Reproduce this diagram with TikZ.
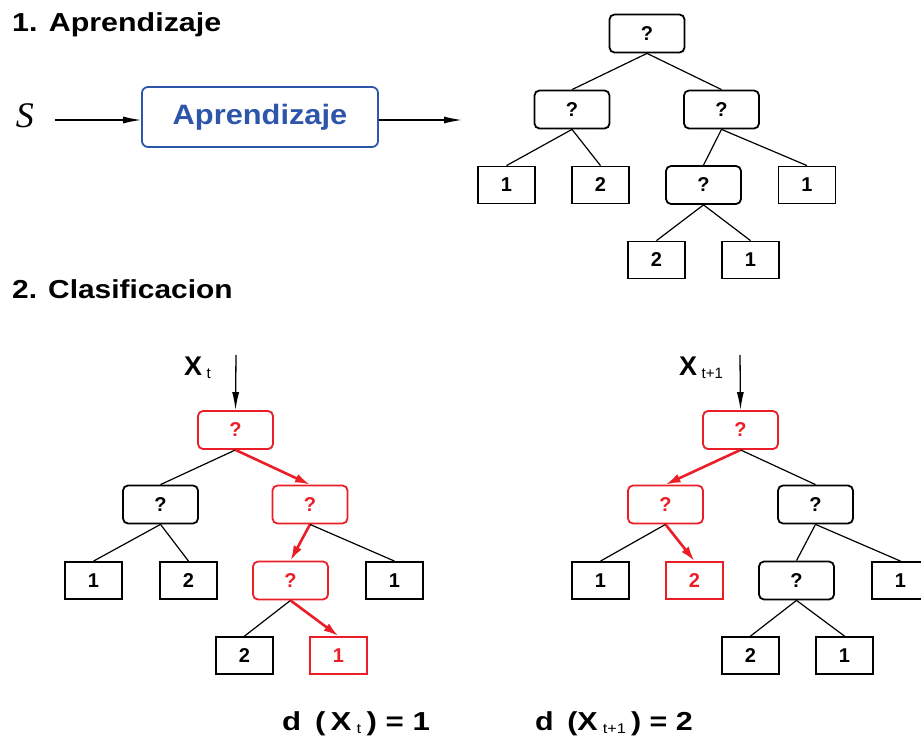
\documentclass[tikz,border=0pt]{standalone}
\usepackage{fontspec}
\usepackage{graphicx}
\setmainfont{Liberation Sans}
\newfontfamily\serifit{Liberation Serif}
\usetikzlibrary{arrows.meta}
\definecolor{rd}{RGB}{235,30,40}
\definecolor{bl}{RGB}{45,85,170}
\tikzset{
  qbox/.style={draw, rounded corners=5pt, minimum width=75pt, minimum height=38pt, line width=1.8pt, inner sep=0pt,
    font=\fontsize{20}{20}\selectfont\bfseries},
  leaf/.style={draw, minimum width=57pt, minimum height=37pt, line width=1.8pt, inner sep=0pt,
    font=\fontsize{20}{20}\selectfont\bfseries},
  hl/.style={draw=rd, text=rd},
  edge/.style={line width=1.2pt},
  redge/.style={draw=rd, line width=2.6pt, -{Latex[length=15pt,width=9pt]}},
  inarrow/.style={line width=1.3pt, -{Latex[length=18pt,width=7pt]}},
  title/.style={anchor=base west, font=\fontsize{26}{26}\selectfont\bfseries, inner sep=0pt},
  result/.style={anchor=base west, font=\fontsize{26}{26}\selectfont\bfseries, inner sep=0pt},
}
\begin{document}
\begin{tikzpicture}[x=1pt, y=-1pt]
\useasboundingbox (0,0) rectangle (921,738);

% ---------- Part 1 ----------
\node[title] (t1) at (12,32) {\scalebox{1.17}[1]{1. Aprendizaje}};
\node[anchor=base, font=\serifit\itshape\fontsize{36}{36}\selectfont, inner sep=0pt] (S) at (25,128) {S};
\node[draw=bl, line width=1.8pt, rounded corners=6pt, minimum width=236pt, minimum height=60pt, inner sep=0pt,
      text=bl, font=\fontsize{28}{28}\selectfont\bfseries] (ap) at (260,117) {\scalebox{1.1}[1]{Aprendizaje}};
\coordinate (sIn) at (55,120);
\coordinate (apOut) at (462,120);
\draw[inarrow] (sIn) -- (ap.west |- sIn);
\draw[inarrow] (ap.east |- apOut) -- (apOut);

% top tree
\node[qbox] (A0) at (647,33.5) {?};
\node[qbox] (A1) at (572,109.5) {?};
\node[qbox] (A2) at (721.5,109.5) {?};
\node[leaf] (A11) at (506.5,185) {1};
\node[leaf] (A12) at (600.5,185) {2};
\node[qbox] (A21) at (703.5,185) {?};
\node[leaf] (A22) at (807,185) {1};
\node[leaf] (A211) at (656.5,260) {2};
\node[leaf] (A212) at (750.5,260) {1};
\draw[edge] (A0.south) -- (A1.north);
\draw[edge] (A0.south) -- (A2.north);
\draw[edge] (A1.south) -- (A11.north);
\draw[edge] (A1.south) -- (A12.north);
\draw[edge] (A2.south) -- (A21.north);
\draw[edge] (A2.south) -- (A22.north);
\draw[edge] (A21.south) -- (A211.north);
\draw[edge] (A21.south) -- (A212.north);

% ---------- Part 2 ----------
\node[title] (t2) at (12,298) {\scalebox{1.15}[1]{2. Clasificacion}};

% left tree
\node[anchor=base west, inner sep=0pt, font=\fontsize{27}{27}\selectfont\bfseries] (xl) at (184,375) {X\,\raisebox{-3pt}{\fontsize{15}{15}\selectfont\mdseries t}};
\coordinate (inL) at (236,355);
\node[qbox, hl] (B0) at (235.5,430) {?};
\node[qbox] (B1) at (160.5,504.5) {?};
\node[qbox, hl] (B2) at (310,504.5) {?};
\node[leaf] (B11) at (93.5,580.5) {1};
\node[leaf] (B12) at (188.5,580.5) {2};
\node[qbox, hl] (B21) at (290.5,580.5) {?};
\node[leaf] (B22) at (394.5,580.5) {1};
\node[leaf] (B211) at (244.5,655.5) {2};
\node[leaf, hl] (B212) at (338.5,655.5) {1};
\draw[inarrow] (inL) -- (B0.north);
\draw[edge] (B0.south) -- (B1.north);
\draw[redge] (B0.south) -- (B2.north);
\draw[edge] (B1.south) -- (B11.north);
\draw[edge] (B1.south) -- (B12.north);
\draw[redge] (B2.south) -- (B21.north);
\draw[edge] (B2.south) -- (B22.north);
\draw[edge] (B21.south) -- (B211.north);
\draw[redge] (B21.south) -- (B212.north);

% right tree
\node[anchor=base west, inner sep=0pt, font=\fontsize{27}{27}\selectfont\bfseries] (xr) at (679,375) {X\,\raisebox{-3pt}{\fontsize{15}{15}\selectfont\mdseries t+1}};
\coordinate (inR) at (740,355);
\node[qbox, hl] (C0) at (740.5,430) {?};
\node[qbox, hl] (C1) at (665.5,504.5) {?};
\node[qbox] (C2) at (815.5,504.5) {?};
\node[leaf] (C11) at (600.5,580.5) {1};
\node[leaf, hl] (C12) at (694.5,580.5) {2};
\node[qbox] (C21) at (796.5,580.5) {?};
\node[leaf] (C22) at (900.5,580.5) {1};
\node[leaf] (C211) at (750.5,655.5) {2};
\node[leaf] (C212) at (844.5,655.5) {1};
\draw[inarrow] (inR) -- (C0.north);
\draw[redge] (C0.south) -- (C1.north);
\draw[edge] (C0.south) -- (C2.north);
\draw[edge] (C1.south) -- (C11.north);
\draw[redge] (C1.south) -- (C12.north);
\draw[edge] (C2.south) -- (C21.north);
\draw[edge] (C2.south) -- (C22.north);
\draw[edge] (C21.south) -- (C211.north);
\draw[edge] (C21.south) -- (C212.north);

% results
\node[result] (d1) at (282,730) {\scalebox{1.2}[1]{d\, (\,X\,\raisebox{-3pt}{\fontsize{14}{14}\selectfont\mdseries t}\,) = 1}};
\node[result] (d2) at (535,730) {\scalebox{1.17}[1]{d\, (X\,\raisebox{-3pt}{\fontsize{14}{14}\selectfont\mdseries t+1}\,) = 2}};
\end{tikzpicture}
\end{document}
